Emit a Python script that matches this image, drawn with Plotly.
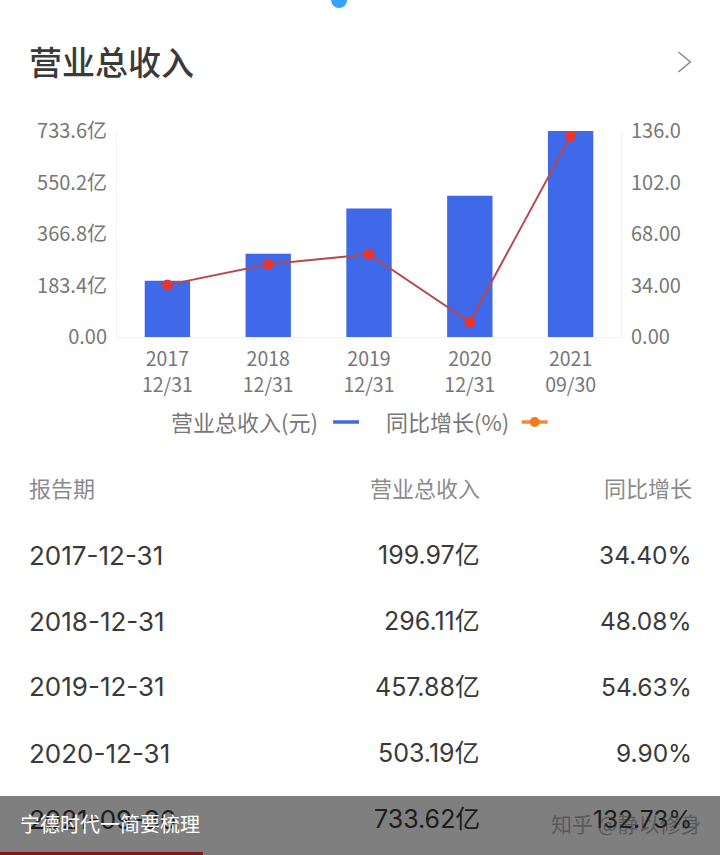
import plotly.graph_objects as go

# revenue in 亿元, growth in %
categories = ['2017<br>12/31', '2018<br>12/31', '2019<br>12/31', '2020<br>12/31', '2021<br>09/30']
revenue = [199.97, 296.11, 457.88, 503.19, 733.62]
growth = [34.40, 48.08, 54.63, 9.90, 132.73]

left_ticks = [0, 183.4, 366.8, 550.2, 733.6]
left_labels = ['0.00', '183.4亿', '366.8亿', '550.2亿', '733.6亿']
right_ticks = [0, 34, 68, 102, 136]
right_labels = ['0.00', '34.00', '68.00', '102.0', '136.0']

table_header = ['报告期', '营业总收入', '同比增长']
table_dates = ['2017-12-31', '2018-12-31', '2019-12-31', '2020-12-31', '2021-09-30']
table_revenue = ['199.97亿', '296.11亿', '457.88亿', '503.19亿', '733.62亿']
table_growth = ['34.40%', '48.08%', '54.63%', '9.90%', '132.73%']

FONT = 'Noto Sans CJK SC'
TABLE_FONT = 'Inter, Noto Sans CJK SC'
W, H = 720, 855
L, R, T, B = 116.5, 621.5, 131, 337


def px(x):
    return (x - L) / (R - L)


def py(y):
    return (B - y) / (B - T)


def text(x, y, s, size, color, anchor='left', weight=None, family=FONT):
    # annotations come out a little inset, pull them back
    x = x - 2.5 if anchor == 'left' else x + 2
    fig.add_annotation(x=px(x), y=py(y - 2), xref='paper', yref='paper', text=s, showarrow=False,
                       xanchor=anchor, yanchor='middle', borderpad=0, align=anchor,
                       font=dict(family=family, size=size, color=color, weight=weight))


def block(x, y, w, h, color):
    # a filled annotation, so it stacks over the texts added before it
    fig.add_annotation(x=px(x), y=py(y), xref='paper', yref='paper', text=' ', showarrow=False,
                       xanchor='left', yanchor='top', width=w, height=h, borderpad=0, borderwidth=0,
                       font=dict(size=1), bgcolor=color)


def seg(x0, y0, x1, y1, color, width):
    fig.add_shape(type='line', xref='paper', yref='paper', x0=px(x0), x1=px(x1), y0=py(y0), y1=py(y1),
                  line=dict(color=color, width=width))


fig = go.Figure()
fig.add_trace(go.Bar(x=categories, y=revenue, width=0.45, marker=dict(color='#3f69e8', line=dict(width=0)),
                     name='营业总收入(元)'))
fig.add_trace(go.Scatter(x=categories, y=growth, yaxis='y2', mode='lines+markers', name='同比增长(%)',
                         line=dict(color='#b8484c', width=2),
                         marker=dict(color='#e8352e', size=11)))

fig.update_layout(
    width=W, height=H, showlegend=False,
    margin=dict(l=L, r=W - R, t=T, b=H - B, pad=0),
    paper_bgcolor='white', plot_bgcolor='white',
    font=dict(family=FONT, size=20, color='#777777'),
    xaxis=dict(type='category', range=[-0.5, 4.5], showgrid=False, showline=True, linecolor='#f2f2f2',
               ticks='', tickfont=dict(size=19.5, color='#777777'), ticklabelstandoff=5),
    yaxis=dict(range=[0, 733.6], tickvals=left_ticks, ticktext=left_labels, showgrid=False, zeroline=False,
               showline=True, linecolor='#f2f2f2', ticks='', ticklabelstandoff=5),
    yaxis2=dict(range=[0, 136], tickvals=right_ticks, ticktext=right_labels, overlaying='y', side='right',
                showgrid=False, zeroline=False, showline=True, linecolor='#f2f2f2', ticks='',
                ticklabelstandoff=5),
)

# header of the card
text(30, 63, '营业总收入', 33, '#3a3a3a', weight=500)
fig.add_shape(type='path', xref='paper', yref='paper', line=dict(color='#888888', width=1.5),
              path=f'M {px(679)} {py(52)} L {px(691)} {py(62)} L {px(679)} {py(72)}')
fig.add_shape(type='circle', xref='paper', yref='paper', x0=px(331), x1=px(347), y0=py(-8), y1=py(8),
              fillcolor='#35a4f5', line=dict(width=0))

# legend, symbols sit right of the labels so it is built by hand
text(172, 423, '营业总收入(元)', 22, '#777777')
seg(333, 422, 359, 422, '#3f69e8', 3.5)
text(388, 423, '同比增长(%)', 22, '#777777')
seg(522, 422, 548, 422, '#ee8a3c', 3.5)
fig.add_shape(type='circle', xref='paper', yref='paper', x0=px(530), x1=px(540), y0=py(417), y1=py(427),
              fillcolor='#ee7a22', line=dict(width=0))

# table
text(30, 489, table_header[0], 22, '#8a8a8a')
text(479, 489, table_header[1], 22, '#8a8a8a', 'right')
text(692, 489, table_header[2], 22, '#8a8a8a', 'right')
row_y = [557, 623, 689, 755, 821]
for i, y in enumerate(row_y):
    text(30, y, table_dates[i], 26, '#3a3a3a', family=TABLE_FONT)
    text(479, y, table_revenue[i], 25, '#3a3a3a', 'right', family=TABLE_FONT)
    text(692, y, table_growth[i], 24.5, '#3a3a3a', 'right', family=TABLE_FONT)

# video caption band lies over the last table row, annotations stack in order
block(-3, 796, W + 6, 63, 'rgba(0,0,0,0.5)')
text(21, 825, '宁德时代一简要梳理', 20, '#ffffff')
text(702, 825, '知乎 @静以修身', 21, 'rgba(50,50,50,0.5)', 'right')
block(-3, 852, 205, 5, '#7f1a16')

fig.write_html('out.html', config=dict(displayModeBar=False),
               post_script="document.body.style.margin='0';document.body.style.overflow='hidden';")
